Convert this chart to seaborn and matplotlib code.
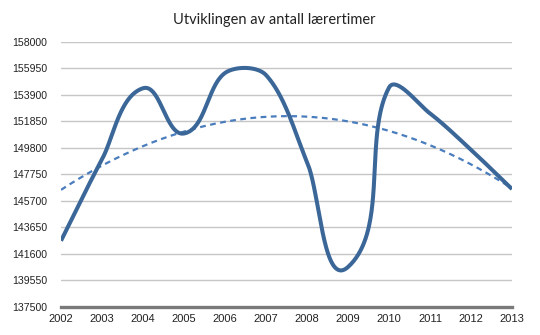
import numpy as np
import pandas as pd
import matplotlib
matplotlib.use("Agg")
import matplotlib.pyplot as plt
import seaborn as sns

# ---- data ----
years = [2002, 2003, 2004, 2005, 2006, 2007, 2008, 2009, 2010, 2011, 2012, 2013]
hours = [142600, 148900, 154400, 150900, 155580, 155420, 148700, 140570, 154450, 152450, 149640, 146600]
y_ticks = [137500, 139550, 141600, 143650, 145700, 147750, 149800, 151850, 153900, 155950, 158000]
title = "Utviklingen av antall lærertimer"

sns.set_style("white")
plt.rcParams["font.family"] = ["Liberation Sans", "DejaVu Sans"]

fig = plt.figure(figsize=(5.4, 3.35), dpi=100)
ax = fig.add_axes([61 / 540, 1 - 306.7 / 335, 451 / 540, 265 / 335])
ax.set_xlim(years[0], years[-1])
ax.set_ylim(y_ticks[0], y_ticks[-1])


def smooth_curve(ax, xs, ys, k=0.3, n=80):
    """Smoothed line through the data points, built in screen space:
    tangent along neighbour chord, handle length proportional to segment length."""
    P = ax.transData.transform(np.column_stack([xs, ys]).astype(float))
    m = len(P)
    tang = []
    for i in range(m):
        a = P[i - 1] if i > 0 else P[i]
        b = P[i + 1] if i < m - 1 else P[i]
        d = b - a
        tang.append(d / np.linalg.norm(d))
    out = []
    for i in range(m - 1):
        p1, p2 = P[i], P[i + 1]
        L = np.linalg.norm(p2 - p1)
        c1 = p1 + tang[i] * k * L
        c2 = p2 - tang[i + 1] * k * L
        t = np.linspace(0, 1, n, endpoint=(i == m - 2))[:, None]
        seg = (1 - t) ** 3 * p1 + 3 * (1 - t) ** 2 * t * c1 + 3 * (1 - t) * t ** 2 * c2 + t ** 3 * p2
        out.append(seg)
    return ax.transData.inverted().transform(np.vstack(out))


curve = smooth_curve(ax, years, hours)
df_curve = pd.DataFrame({"year": curve[:, 0], "hours": curve[:, 1]})

# polynomial trend line (order 2) fitted to the data
coef = np.polyfit(np.array(years) - years[0], hours, 2)
xt = np.linspace(years[0], years[-1], 200)
df_trend = pd.DataFrame({"year": xt, "hours": np.polyval(coef, xt - years[0])})

sns.lineplot(data=df_trend, x="year", y="hours", sort=False, estimator=None, ax=ax,
             color="#4a7dbd", linewidth=1.6, linestyle=(0, (2.6, 2.0)), zorder=3)
sns.lineplot(data=df_curve, x="year", y="hours", sort=False, estimator=None, ax=ax,
             color="#3b6798", linewidth=2.9, zorder=4, solid_capstyle="butt")

ax.set_xlim(years[0], years[-1])
ax.set_ylim(y_ticks[0], y_ticks[-1])
ax.set_xticks(years)
ax.set_xticklabels([str(y) for y in years])
ax.set_yticks(y_ticks)
ax.set_yticklabels([str(v) for v in y_ticks])
ax.set_xlabel("")
ax.set_ylabel("")

ax.grid(axis="y", color="#c6c6c6", linewidth=1.0)
ax.grid(axis="x", visible=False)
ax.set_axisbelow(True)
for s in ["left", "right", "top"]:
    ax.spines[s].set_visible(False)
ax.spines["bottom"].set_color("#7a7a7a")
ax.spines["bottom"].set_linewidth(2.4)
ax.spines["bottom"].set_zorder(5)
ax.tick_params(axis="both", length=0)
ax.tick_params(axis="y", labelsize=7.6, pad=10, colors="#222222")
ax.tick_params(axis="x", labelsize=8.0, pad=5, colors="#222222")

fig.text(274 / 540, 1 - 20 / 335, title, ha="center", va="center",
         fontsize=10.5, family=["Lato", "DejaVu Sans"], color="#222222")

fig.savefig("out.png", dpi=100)
